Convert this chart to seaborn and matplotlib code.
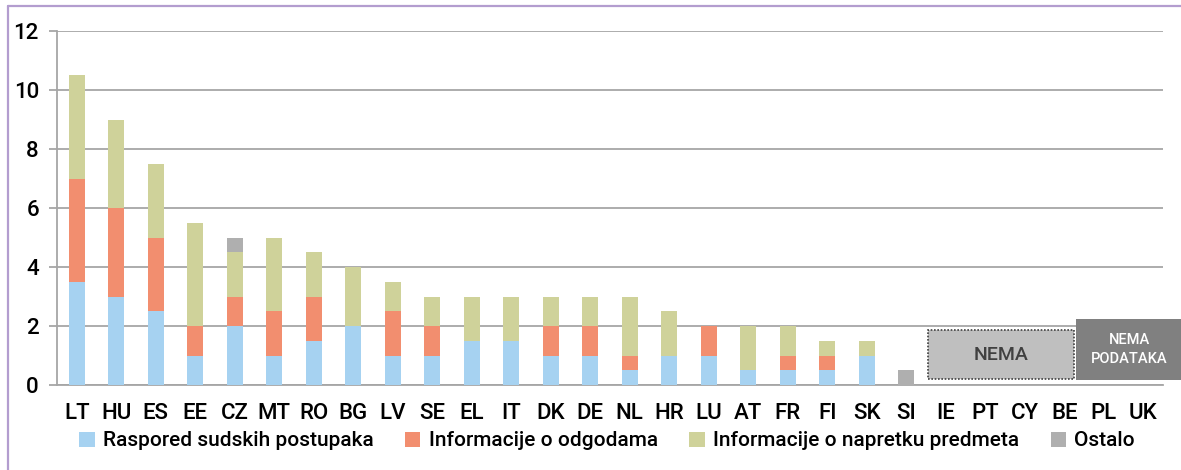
import pandas as pd
import numpy as np
import matplotlib
matplotlib.use("Agg")
import matplotlib.pyplot as plt
import seaborn as sns
from matplotlib.patches import Patch, Rectangle
from matplotlib.lines import Line2D

countries = ["LT", "HU", "ES", "EE", "CZ", "MT", "RO", "BG", "LV", "SE", "EL", "IT", "DK", "DE",
             "NL", "HR", "LU", "AT", "FR", "FI", "SK", "SI", "IE", "PT", "CY", "BE", "PL", "UK"]
raspored = [3.5, 3, 2.5, 1, 2, 1, 1.5, 2, 1, 1, 1.5, 1.5, 1, 1, 0.5, 1, 1, 0.5, 0.5, 0.5, 1, 0, 0, 0, 0, 0, 0, 0]
odgode = [3.5, 3, 2.5, 1, 1, 1.5, 1.5, 0, 1.5, 1, 0, 0, 1, 1, 0.5, 0, 1, 0, 0.5, 0.5, 0, 0, 0, 0, 0, 0, 0, 0]
napredak = [3.5, 3, 2.5, 3.5, 1.5, 2.5, 1.5, 2, 1, 1, 1.5, 1.5, 1, 1, 2, 1.5, 0, 1.5, 1, 0.5, 0.5, 0, 0, 0, 0, 0, 0, 0]
ostalo = [0, 0, 0, 0, 0.5, 0, 0, 0, 0, 0, 0, 0, 0, 0, 0, 0, 0, 0, 0, 0, 0, 0.5, 0, 0, 0, 0, 0, 0]

series_names = ["Raspored sudskih postupaka", "Informacije o odgodama",
                "Informacije o napretku predmeta", "Ostalo"]
colors = ["#A6D2F1", "#F28E6F", "#CFD29A", "#AFAFAF"]

df = pd.DataFrame({"country": countries, "s1": raspored, "s2": odgode, "s3": napredak, "s4": ostalo})
cols = ["s1", "s2", "s3", "s4"]
cum = df[cols].cumsum(axis=1)

sns.set_style("white")
plt.rcParams["font.family"] = ["Roboto", "DejaVu Sans"]
plt.rcParams["font.weight"] = "medium"
plt.rcParams["text.color"] = "black"
plt.rcParams["xtick.color"] = "black"
plt.rcParams["ytick.color"] = "black"

fig = plt.figure(figsize=(11.81, 4.70), dpi=100)
ax = fig.add_axes([57 / 1181, 1 - 385 / 470, (1163 - 57) / 1181, (385 - 31) / 470])

# stacked bars: draw cumulative totals from the top layer down
for col, color in reversed(list(zip(cols, colors))):
    sns.barplot(x=df["country"], y=cum[col], color=color, width=0.4, order=countries,
                ax=ax, saturation=1, edgecolor="none", zorder=3)

ax.set_ylim(0, 12)
ax.set_xlim(-0.5, len(countries) - 0.5)
ax.set_yticks(np.arange(0, 13, 2))
ax.yaxis.grid(True, color="#A6A6A6", linewidth=1.3, zorder=0)
ax.set_axisbelow(True)
ax.set_xlabel("")
ax.set_ylabel("")
for s in ["top", "right"]:
    ax.spines[s].set_visible(False)
for s in ["left", "bottom"]:
    ax.spines[s].set_color("#A6A6A6")
    ax.spines[s].set_linewidth(1.3)

ax.set_xticks(np.arange(-0.5, len(countries), 1), minor=True)
ax.tick_params(axis="x", which="minor", length=6, width=1.3, color="#A6A6A6", direction="out")
ax.tick_params(axis="x", which="major", length=0, pad=13, labelsize=16)
ax.tick_params(axis="y", length=6, width=1.3, color="#A6A6A6", pad=7, labelsize=16, left=True)

# annotation boxes
ax.add_patch(Rectangle((21.54, 0.2), 3.7, 1.66, facecolor="#BFBFBF", edgecolor="#404040",
                       linestyle=(0, (1, 1)), linewidth=1.2, zorder=4))
ax.text(21.54 + 3.7 / 2, 0.2 + 1.66 / 2, "NEMA", ha="center", va="center",
        fontsize=14, color="#404040", zorder=5)
ax.add_patch(Rectangle((25.3, 0.17), 3.0, 2.07, facecolor="#808080", edgecolor="none",
                       zorder=4, clip_on=False))
ax.text(26.65, 1.2, "NEMA\nPODATAKA", ha="center", va="center", fontsize=10.5,
        color="white", linespacing=1.5, zorder=5, clip_on=False)

handles = [Patch(facecolor=c, edgecolor="none", label=n) for c, n in zip(colors, series_names)]
fig.legend(handles=handles, loc="center", bbox_to_anchor=(607 / 1181, 1 - 441 / 470), ncol=4,
           frameon=False, fontsize=15, handlelength=0.75, handleheight=0.75,
           handletextpad=0.4, columnspacing=1.5, borderaxespad=0)

# thin purple frame on the left and top
fig.add_artist(Line2D([7.5 / 1181, 7.5 / 1181], [0, 1 - 5.5 / 470], color="#B39DCF", linewidth=1.6))
fig.add_artist(Line2D([7.5 / 1181, 1], [1 - 5.5 / 470, 1 - 5.5 / 470], color="#B39DCF", linewidth=1.6))

fig.savefig("out.png", dpi=100)
